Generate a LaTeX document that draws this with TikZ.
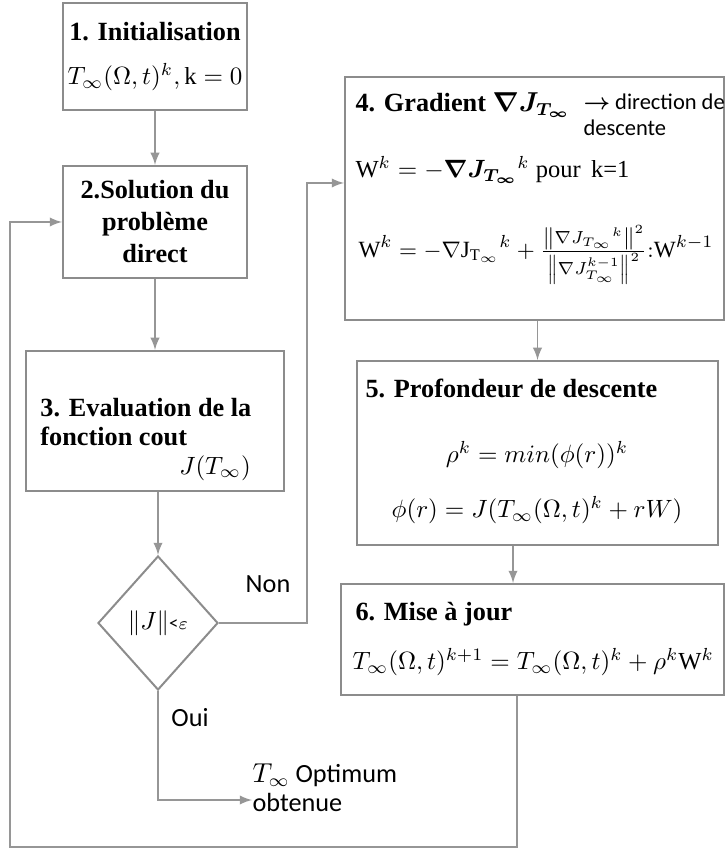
\documentclass[tikz,border=0pt]{standalone}
\usepackage{amsmath,amssymb,bm}
\usepackage{fontspec}
\setmainfont{Liberation Serif}
\newfontfamily\calib{Carlito}
\usetikzlibrary{shapes,arrows,positioning,calc}
\definecolor{boxgray}{RGB}{140,140,140}
\definecolor{linegray}{RGB}{150,150,150}
\def\pxu{0.4pt}

\begin{document}
\begin{tikzpicture}[x=0.4pt, y=-0.4pt, >=latex, font=\fontsize{10.5}{12.5}\selectfont]
    \tikzstyle{block} = [draw=boxgray, line width=0.8pt, rectangle, inner sep=0pt, align=center]
    \tikzstyle{test} = [draw=boxgray, line width=0.8pt, diamond, inner sep=0pt, minimum width=120*\pxu, minimum height=134*\pxu]
    \tikzstyle{line} = [draw=linegray, line width=0.7pt, ->]
    \tikzstyle{head} = [inner sep=0pt, anchor=west, font=\fontsize{10.5}{11.6}\selectfont\bfseries, align=left]
    \tikzstyle{sans} = [inner sep=0pt, font=\calib\fontsize{9}{10.5}\selectfont]
    \tikzstyle{eq} = [inner sep=0pt, font=\fontsize{9.8}{11}\selectfont]
    \useasboundingbox (0,0) rectangle (725,850);

    % left column
    \node [block, minimum width=184*\pxu, minimum height=107*\pxu] (init) at (155,56.5)
        {\textbf{1. Initialisation}\\[5pt] \fontsize{9.8}{11}\selectfont$T_\infty(\Omega,t)^k,\mathrm{k}=0$};
    \node [block, font=\fontsize{10.5}{12.8}\selectfont\bfseries, minimum width=184*\pxu, minimum height=112*\pxu] (sol) at (155,222)
        {2.Solution du\\probl\`eme\\direct};
    \node [block, minimum width=258*\pxu, minimum height=140*\pxu] (eval) at (155,421) {};
    \node [head] (evaltxt) at (40,422) {3. Evaluation de la\\fonction cout};
    \node [eq] (cost) at (215,468) {$J(T_\infty)$};
    \node [test] (dec) at (158,623) {\calib\fontsize{10}{11}\selectfont$\|J\|$\fontsize{7.5}{9}\selectfont<$\varepsilon$};

    % right column
    \node [block, minimum width=379*\pxu, minimum height=243*\pxu] (grad) at (534.5,198.5) {};
    \node [head] (gradtxt) at (355,105) {4. Gradient $\bm{\nabla J_{T_\infty}}$};
    \node [sans, anchor=north west, align=left] (dirtxt) at (583,93) {$\bm{\rightarrow}$ direction de\\descente};
    \node [eq, anchor=west] (wfirst) at (355,170) {$\mathrm{W}^k=-\bm{\nabla J_{T_\infty}}{}^{k}$ pour\, k=1};
    \node [eq, anchor=west, font=\fontsize{9.3}{11}\selectfont] (wnext) at (358,255)
        {$\mathrm{W}^k=-\nabla\mathrm{J}_{\mathrm{T}_\infty}{}^{k}+\frac{\left\|\nabla J_{T_\infty}{}^{k}\right\|^2}{\left\|\nabla J_{T_\infty}^{k-1}\right\|^2}{:}\mathrm{W}^{k-1}$};

    \node [block, minimum width=361*\pxu, minimum height=184*\pxu] (prof) at (537.5,453) {};
    \node [head] (proftxt) at (365,388) {5. Profondeur de descente};
    \node [eq] (rho) at (537,455) {$\rho^k=min(\phi(r))^k$};
    \node [eq] (phi) at (537,510) {$\phi(r)=J(T_\infty(\Omega,t)^k+rW)$};

    \node [block, minimum width=383*\pxu, minimum height=111*\pxu] (maj) at (532.5,639.5) {};
    \node [head] (majtxt) at (355,614) {6. Mise \`a jour};
    \node [eq, anchor=west] (upd) at (352,662) {$T_\infty(\Omega,t)^{k+1}=T_\infty(\Omega,t)^k+\rho^k\mathrm{W}^k$};

    % exit
    \node [sans, anchor=west, align=left, font=\calib\fontsize{10.5}{11.5}\selectfont] (opt) at (252,788) {$T_\infty$ Optimum\\obtenue};
    \node [sans, font=\calib\fontsize{10.5}{11.5}\selectfont] (non) at (268,584) {Non};
    \node [sans, font=\calib\fontsize{10.5}{11.5}\selectfont] (oui) at (190,718) {Oui};

    \coordinate (nonbend) at (307,183);
    \coordinate (m56) at (513,0);
    \coordinate (lp) at (517,847);
    \coordinate (lq) at (10,847);

    \path [line] (init) -- (sol);
    \path [line] (sol) -- (eval);
    \path [line] (eval.south -| dec.north) -- (dec.north);
    \path [line] (dec.east) -| (nonbend) -- (nonbend -| grad.west);
    \path [line] (prof.north |- grad.south) -- (prof.north);
    \path [line] (prof.south -| m56) -- (maj.north -| m56);
    \path [line] (maj.south -| lp) -- (lp) -- (lq) |- (sol.west);
    \path [line] (dec.south) |- ([yshift=-4.8pt]opt.west);
\end{tikzpicture}
\end{document}
